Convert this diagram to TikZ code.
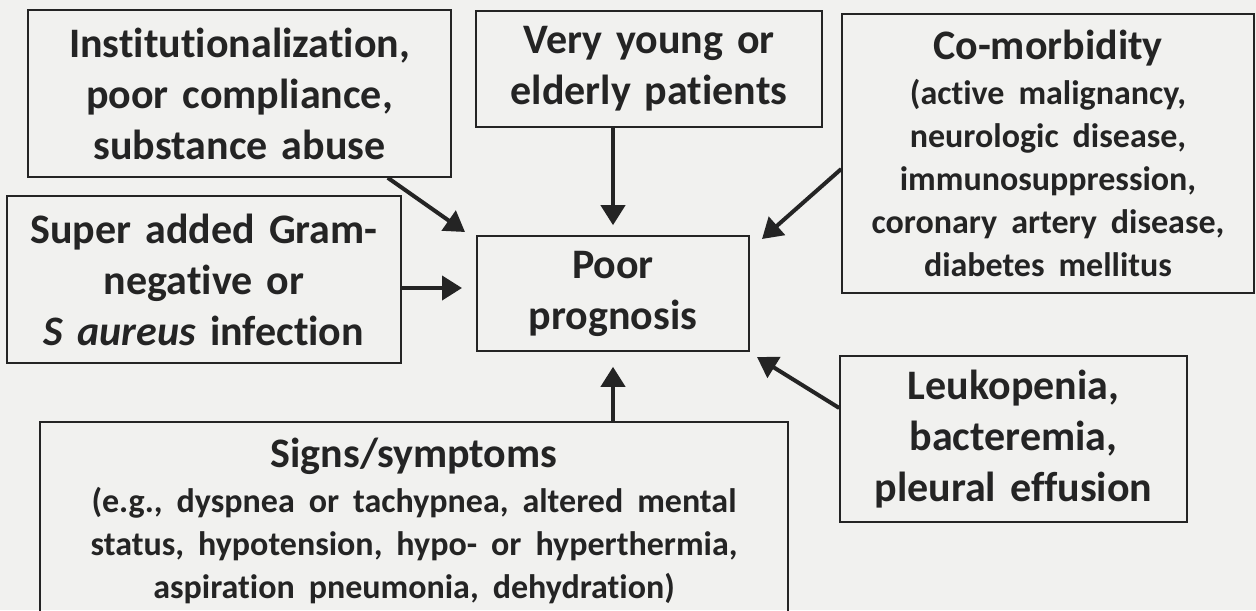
\documentclass[tikz,border=0pt]{standalone}
\usepackage{fontspec}
\setmainfont{Carlito}[Ligatures=NoCommon]
\usetikzlibrary{arrows.meta}
\definecolor{paper}{RGB}{241,241,239}
\definecolor{ink}{RGB}{36,36,36}
\newcommand{\subtxt}{\fontsize{17}{21.5}\selectfont}
\begin{document}
\begin{tikzpicture}[x=0.5pt, y=-0.5pt,
    factor/.style={draw=ink, line width=0.8pt, text=ink, align=center, inner sep=0pt,
        font=\bfseries\fontsize{21}{25.5}\selectfont},
    push/.style={draw=ink, line width=2pt, -{Triangle[length=10pt, width=12pt]}}]
                \useasboundingbox (0, 0) rectangle (1256, 610);
                \clip (0, 0) rectangle (1256, 610);
                \fill[paper] (0, 0) rectangle (1256, 610);

                \node[factor, minimum width=211.5pt, minimum height=83.5pt, text width=205pt] (inst) at (239.5, 93.5)
                    {Institutionalization,\\ poor compliance,\\ substance abuse};
                \node[factor, minimum width=173pt, minimum height=58pt, text width=168pt] (age) at (649, 69)
                    {Very young or\\ elderly patients};
                \node[factor, minimum width=206pt, minimum height=139.5pt, text width=200pt] (comorb) at (1048, 153.5)
                    {Co-morbidity\par\vspace{1pt}\subtxt (active malignancy,\\ neurologic disease,\\ immunosuppression,\\ coronary artery disease,\\ diabetes mellitus\par};
                \node[factor, minimum width=197pt, minimum height=83.5pt, text width=192pt] (gram) at (204, 279.5)
                    {Super added Gram-\\ negative or\\ \textit{S aureus} infection};
                \node[factor, minimum width=136pt, minimum height=57.5pt, text width=130pt] (prog) at (613, 293.5)
                    {Poor\\ prognosis};
                \node[factor, minimum width=173.5pt, minimum height=83pt, text width=168pt] (leuko) at (1013.5, 439)
                    {Leukopenia,\\ bacteremia,\\ pleural effusion};
                \node[factor, minimum width=374pt, minimum height=99pt, text width=368pt] (signs) at (414, 521)
                    {Signs/symptoms\par\vspace{1pt}\subtxt (e.g., dyspnea or tachypnea, altered mental\\ status, hypotension, hypo- or hyperthermia,\\ aspiration pneumonia, dehydration)\par};

                \coordinate (instTip) at (465, 232);
                \coordinate (comorbTip) at (762, 239);
                \coordinate (gramTip) at (462, 288);
                \coordinate (leukoTip) at (757, 357);

                \draw[push] ([xshift=-32pt]inst.south east) -- (instTip);
                \draw[push] (age.south -| prog.north) -- ([yshift=5pt]prog.north);
                \draw[push] ([yshift=-7.75pt]comorb.west) -- (comorbTip);
                \draw[push] ([yshift=-4.25pt]gram.east) -- (gramTip);
                \draw[push] ([yshift=15.5pt]leuko.west) -- (leukoTip);
                \draw[push] (signs.north -| prog.south) -- ([yshift=-7.5pt]prog.south);
\end{tikzpicture}
\end{document}
